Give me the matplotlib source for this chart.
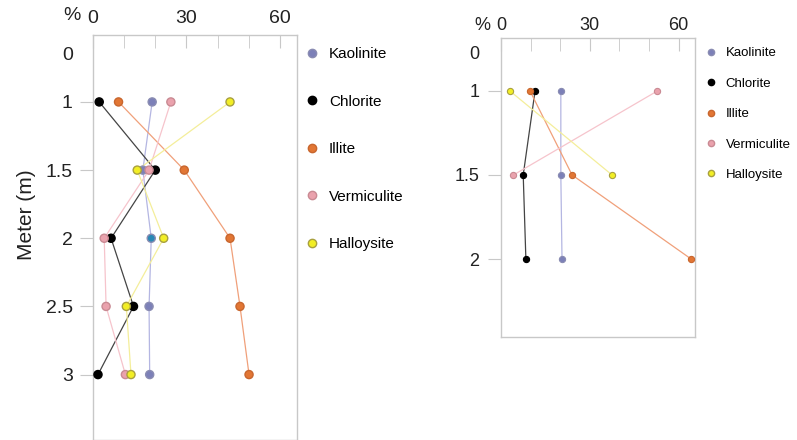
import numpy as np
import matplotlib
matplotlib.use('Agg')
import matplotlib.pyplot as plt
from matplotlib.lines import Line2D

plt.rcParams['font.family'] = ['Liberation Sans', 'DejaVu Sans']

minerals = ['Kaolinite', 'Chlorite', 'Illite', 'Vermiculite', 'Halloysite']

# left profile, depth in m, values in %
depth_left = [1, 1.5, 2, 2.5, 3]
kaolinite_left = [19, 16, 18.7, 18, 18.2]
chlorite_left = [2, 20, 5.8, 13, 1.6]
illite_left = [8.2, 29.3, 44, 47.2, 50.1]
vermiculite_left = [25, 18, 3.6, 4.2, 10.4]
halloysite_left = [44, 14.2, 22.7, 10.7, 12.2]

# right profile
depth_right = [1, 1.5, 2]
kaolinite_right = [20.2, 20.2, 20.6]
chlorite_right = [11.5, 7.5, 8.4]
illite_right = [9.8, 24, 64.2]
vermiculite_right = [52.8, 4.2]
halloysite_right = [3, 37.5]

ticks_left = [0, 1, 1.5, 2, 2.5, 3]
ticks_right = [0, 1, 1.5, 2]

face = {'Kaolinite': '#7c80b8', 'Chlorite': '#000000', 'Illite': '#e27634',
        'Vermiculite': '#eaa2ad', 'Halloysite': '#f2ee25'}
edge = {'Kaolinite': '#8a8cb2', 'Chlorite': '#000000', 'Illite': '#c8662e',
        'Vermiculite': '#c98a93', 'Halloysite': '#a8a040'}
line = {'Kaolinite': '#b4b6e2', 'Chlorite': '#444444', 'Illite': '#f0a07a',
        'Vermiculite': '#f6c4cc', 'Halloysite': '#f4ee9a'}
frame = '#c8c8c8'


def squeeze(c):
    # upper part of the depth axis (0 - 1 m) is drawn compressed
    fwd = lambda d: np.where(d < 1, 1 - (1 - d) * c, d)
    inv = lambda y: np.where(y < 1, 1 - (1 - y) / c, y)
    return fwd, inv


fig = plt.figure(figsize=(7.97, 4.4), dpi=100)

def setup(ax, c, ticks, ylim, fs, pad_top, pad_left):
    ax.set_yscale('function', functions=squeeze(c))
    ax.set_xlim(0, 65.5)
    ax.xaxis.tick_top()
    ax.set_xticks([0, 30, 60])
    ax.set_xticks([10, 20, 40, 50], minor=True)
    ax.tick_params(axis='x', which='both', direction='in', length=9, color=frame,
                   labelsize=fs, pad=pad_top, labelcolor='#222222')
    ax.set_yticks(ticks)
    ax.set_yticklabels([('%g' % t) for t in ticks])
    ax.yaxis.set_minor_locator(plt.NullLocator())
    ax.set_ylim(ylim)
    ax.tick_params(axis='y', direction='out', length=9.5, color=frame,
                   labelsize=fs, pad=pad_left, labelcolor='#222222')
    ax.yaxis.get_major_ticks()[0].tick1line.set_visible(False)
    for s in ax.spines.values():
        s.set_color(frame)
        s.set_linewidth(1.0)
    ax.set_facecolor('white')


# ---- left panel
ax1 = fig.add_axes([93 / 797, 0.0, 204 / 797, 405 / 440])
series_left = [kaolinite_left, chlorite_left, illite_left, vermiculite_left, halloysite_left]
for name, vals in zip(minerals, series_left):
    ax1.plot(vals, depth_left, '-', color=line[name], lw=0.9, zorder=2)
for name, vals in zip(minerals, series_left):
    fc = [face[name]] * len(vals)
    if name == 'Kaolinite':
        fc[2] = '#2a88b5'
    ax1.scatter(vals, depth_left, s=34, c=fc, edgecolors=edge[name], linewidths=1.0, zorder=3)
setup(ax1, 0.352, ticks_left, (3.48, -0.395), 14, 6, 5)
ax1.annotate('%', xy=(0, 1), xycoords='axes fraction', xytext=(-9, 8),
             textcoords='offset points', ha='right', va='bottom', fontsize=14, color='#222222')
fig.text(27 / 797, 1 - 215 / 440, 'Meter (m)', rotation=90, ha='center', va='center',
         fontsize=15, color='#222222')

handles = [Line2D([], [], ls='none', marker='o', ms=6, mfc=face[m], mec=edge[m]) for m in minerals]
fig.legend(handles, minerals, loc='upper left', bbox_to_anchor=(306 / 797, 1 - 47 / 440),
           frameon=False, fontsize=11, labelspacing=2.2, handlelength=0.8,
           handletextpad=0.7, borderpad=0, borderaxespad=0)

# ---- right panel
ax2 = fig.add_axes([501 / 797, 103 / 440, 194 / 797, 299 / 440])
series_right = [kaolinite_right, chlorite_right, illite_right, vermiculite_right, halloysite_right]
for name, vals in zip(minerals, series_right):
    d = depth_right[:len(vals)]
    ax2.plot(vals, d, '-', color=line[name], lw=0.9, zorder=2)
for name, vals in zip(minerals, series_right):
    d = depth_right[:len(vals)]
    ax2.scatter(vals, d, s=20, c=face[name], edgecolors=edge[name], linewidths=0.8, zorder=3)
setup(ax2, 0.226, ticks_right, (2.464, -0.394), 13, 3, 6)
ax2.annotate('%', xy=(0, 1), xycoords='axes fraction', xytext=(-8, 3),
             textcoords='offset points', ha='right', va='bottom', fontsize=13, color='#222222')

handles2 = [Line2D([], [], ls='none', marker='o', ms=4.5, mfc=face[m], mec=edge[m]) for m in minerals]
fig.legend(handles2, minerals, loc='upper left', bbox_to_anchor=(706 / 797, 1 - 47 / 440),
           frameon=False, fontsize=9.5, labelspacing=1.38, handlelength=0.8,
           handletextpad=0.7, borderpad=0, borderaxespad=0)

fig.savefig('out.png', dpi=100, facecolor='white')
